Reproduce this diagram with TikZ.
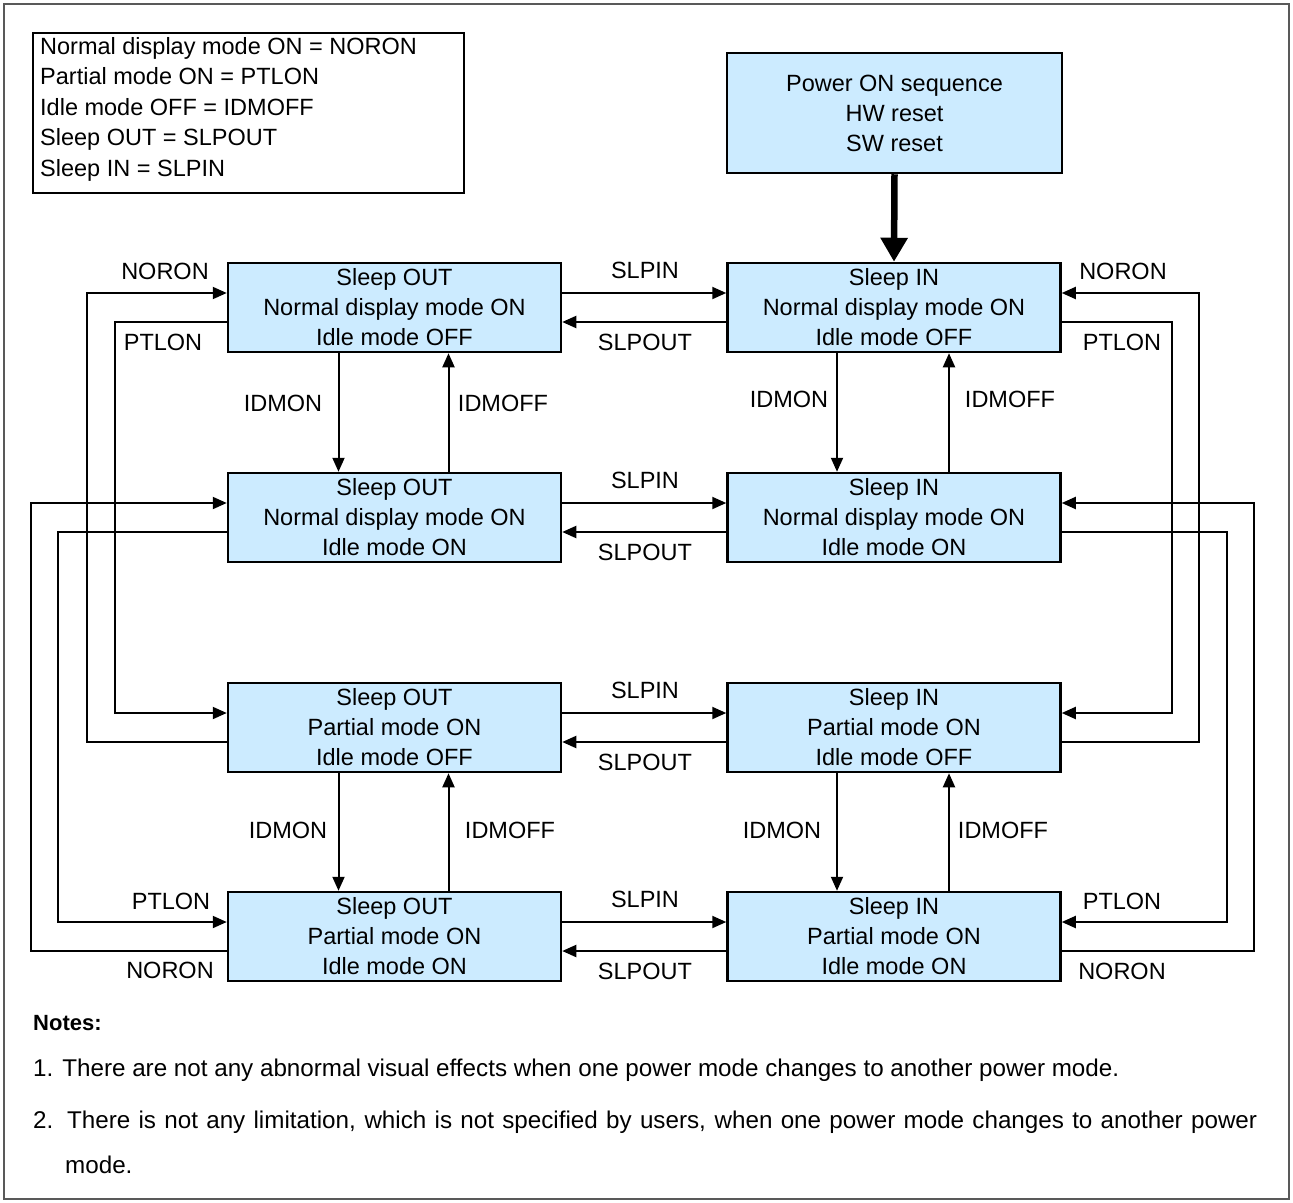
\documentclass[tikz,border=0pt]{standalone}
\usepackage{fontspec}
\setmainfont{Liberation Sans}
\usetikzlibrary{arrows.meta}
\definecolor{boxblue}{RGB}{204,235,255}
\begin{document}
\begin{tikzpicture}[x=1pt,y=-1pt,
  state/.style={draw, line width=2.5pt, fill=boxblue, minimum width=333pt, minimum height=89pt, inner sep=0pt, align=center, font=\fontsize{23.5}{30}\selectfont},
  conn/.style={line width=2pt, -{Triangle[length=14pt,width=12pt]}},
  lbl/.style={font=\fontsize{23.5}{28}\selectfont, inner sep=0pt},
  note/.style={font=\fontsize{24.2}{28}\selectfont, inner sep=0pt, anchor=west},
]
\useasboundingbox (0,0) rectangle (1293,1202);
\draw[black!65, line width=1.5pt] (4,4) rectangle (1289,1199);

% legend
\node (leg) [draw, line width=2pt, minimum width=431pt, minimum height=160pt, inner sep=0pt, anchor=north west] at (32,32) {};
\node (legtxt) [anchor=west, align=left, inner sep=0pt, font=\fontsize{23.5}{30.5}\selectfont] at (40,109) {Normal display mode ON = NORON\\Partial mode ON = PTLON\\Idle mode OFF = IDMOFF\\Sleep OUT = SLPOUT\\Sleep IN = SLPIN};

% power box
\node (p) [state, minimum width=335pt, minimum height=120pt] at (894.5,113) {Power ON sequence\\HW reset\\SW reset};

% states
\node (a1) [state] at (394.5,307.5) {Sleep OUT\\Normal display mode ON\\Idle mode OFF};
\node (b1) [state] at (894,307.5) {Sleep IN\\Normal display mode ON\\Idle mode OFF};
\node (a2) [state] at (394.5,517.5) {Sleep OUT\\Normal display mode ON\\Idle mode ON};
\node (b2) [state] at (894,517.5) {Sleep IN\\Normal display mode ON\\Idle mode ON};
\node (a3) [state] at (394.5,727.5) {Sleep OUT\\Partial mode ON\\Idle mode OFF};
\node (b3) [state] at (894,727.5) {Sleep IN\\Partial mode ON\\Idle mode OFF};
\node (a4) [state] at (394.5,936.5) {Sleep OUT\\Partial mode ON\\Idle mode ON};
\node (b4) [state] at (894,936.5) {Sleep IN\\Partial mode ON\\Idle mode ON};

% power on arrow
\draw[line width=6.5pt, -{Triangle[length=24pt,width=26pt]}] (p.south) -- (b1.north);

% SLPIN / SLPOUT
\foreach \r in {1,2,3,4}{
  \draw[conn] ([yshift=14.5pt]a\r.east) -- ([yshift=14.5pt]b\r.west);
  \draw[conn] ([yshift=-14.5pt]b\r.west) -- ([yshift=-14.5pt]a\r.east);
}

% IDMON / IDMOFF
\draw[conn] ([xshift=-56pt]a1.south) -- ([xshift=-56pt]a2.north);
\draw[conn] ([xshift=54pt]a2.north) -- ([xshift=54pt]a1.south);
\draw[conn] ([xshift=-57pt]b1.south) -- ([xshift=-57pt]b2.north);
\draw[conn] ([xshift=55pt]b2.north) -- ([xshift=55pt]b1.south);
\draw[conn] ([xshift=-56pt]a3.south) -- ([xshift=-56pt]a4.north);
\draw[conn] ([xshift=54pt]a4.north) -- ([xshift=54pt]a3.south);
\draw[conn] ([xshift=-57pt]b3.south) -- ([xshift=-57pt]b4.north);
\draw[conn] ([xshift=55pt]b4.north) -- ([xshift=55pt]b3.south);

% left loops
\draw[conn] ([yshift=-14.5pt]a3.west) -| ([xshift=-140pt,yshift=14.5pt]a1.west) -- ([yshift=14.5pt]a1.west);
\draw[conn] ([yshift=-14.5pt]a1.west) -| ([xshift=-112pt,yshift=14.5pt]a3.west) -- ([yshift=14.5pt]a3.west);
\draw[conn] ([yshift=-14.5pt]a4.west) -| ([xshift=-196pt,yshift=14.5pt]a2.west) -- ([yshift=14.5pt]a2.west);
\draw[conn] ([yshift=-14.5pt]a2.west) -| ([xshift=-169pt,yshift=14.5pt]a4.west) -- ([yshift=14.5pt]a4.west);

% right loops
\draw[conn] ([yshift=-14.5pt]b3.east) -| ([xshift=137pt,yshift=14.5pt]b1.east) -- ([yshift=14.5pt]b1.east);
\draw[conn] ([yshift=-14.5pt]b1.east) -| ([xshift=110pt,yshift=14.5pt]b3.east) -- ([yshift=14.5pt]b3.east);
\draw[conn] ([yshift=-14.5pt]b4.east) -| ([xshift=192pt,yshift=14.5pt]b2.east) -- ([yshift=14.5pt]b2.east);
\draw[conn] ([yshift=-14.5pt]b2.east) -| ([xshift=165pt,yshift=14.5pt]b4.east) -- ([yshift=14.5pt]b4.east);

% labels
\node (l1) [lbl] at (165,271) {NORON};
\node (l2) [lbl] at (163,342) {PTLON};
\node (l3) [lbl] at (1123,271) {NORON};
\node (l4) [lbl] at (1122,342) {PTLON};
\node (s1) [lbl] at (645,270) {SLPIN};
\node (o1) [lbl] at (645,342) {SLPOUT};
\node (s2) [lbl] at (645,480) {SLPIN};
\node (o2) [lbl] at (645,552) {SLPOUT};
\node (s3) [lbl] at (645,690) {SLPIN};
\node (o3) [lbl] at (645,762) {SLPOUT};
\node (s4) [lbl] at (645,899) {SLPIN};
\node (o4) [lbl] at (645,971) {SLPOUT};
\node (i1) [lbl] at (283,403) {IDMON};
\node (f1) [lbl] at (503,403) {IDMOFF};
\node (i2) [lbl] at (789,399) {IDMON};
\node (f2) [lbl] at (1010,399) {IDMOFF};
\node (i3) [lbl] at (288,830) {IDMON};
\node (f3) [lbl] at (510,830) {IDMOFF};
\node (i4) [lbl] at (782,830) {IDMON};
\node (f4) [lbl] at (1003,830) {IDMOFF};
\node (l5) [lbl] at (171,901) {PTLON};
\node (l6) [lbl] at (170,970) {NORON};
\node (l7) [lbl] at (1122,901) {PTLON};
\node (l8) [lbl] at (1122,971) {NORON};

% notes
\node (nt) [anchor=west, inner sep=0pt, font=\fontsize{22}{26}\selectfont\bfseries] at (33,1023) {Notes:};
\node (n1) [note] at (33,1070) {1. There are not any abnormal visual effects when one power mode changes to another power mode.};
\node (n2) [note] at (33,1122) {\makebox[1224pt][s]{2. There is not any limitation, which is not specified by users, when one power mode changes to another power}};
\node (n3) [note] at (65,1165) {mode.};
\end{tikzpicture}
\end{document}
